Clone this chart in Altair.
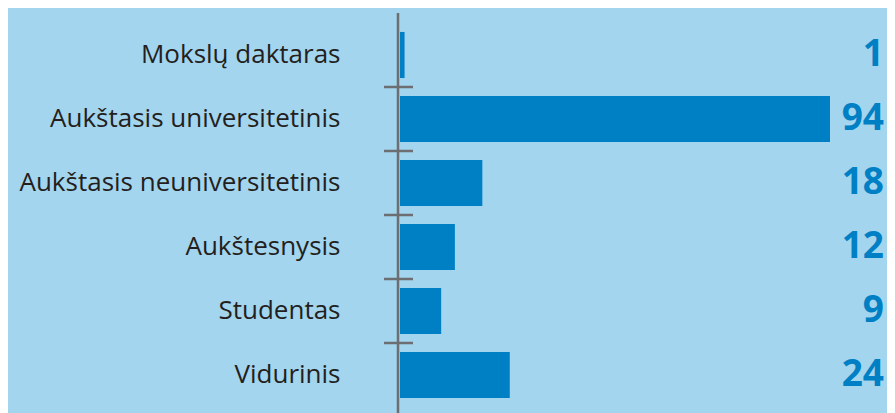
import altair as alt
import pandas as pd

categories = ["Mokslų daktaras", "Aukštasis universitetinis", "Aukštasis neuniversitetinis",
              "Aukštesnysis", "Studentas", "Vidurinis"]
values = [1, 94, 18, 12, 9, 24]

df = pd.DataFrame({"cat": categories, "val": values})
ticks_df = pd.DataFrame({"cat": categories[1:]})

BG = "#a3d5ee"
BAR = "#0080c4"
AXIS = "#6d6e71"

yenc = alt.Y("cat:N", sort=categories,
             scale=alt.Scale(paddingInner=0, paddingOuter=0),
             axis=alt.Axis(title=None, domain=False, ticks=False, labelPadding=60,
                           labelFont="Open Sans", labelFontSize=26, labelColor="#231f20",
                           labelAlign="right", labelLimit=400))

bars = alt.Chart(df).mark_bar(color=BAR, height={"band": 0.72}).encode(
    x=alt.X("val:Q", scale=alt.Scale(domain=[0, 94], nice=False), axis=None),
    y=yenc,
)

labels = alt.Chart(df).mark_text(align="right", baseline="middle", font="Open Sans",
                                 fontWeight="bold", fontSize=37, color=BAR).encode(
    x=alt.value(484),
    y=alt.Y("cat:N", sort=categories),
    text=alt.Text("val:Q"),
)

axis_line = alt.Chart(df.head(1)).mark_rule(color=AXIS, strokeWidth=2.5).encode(
    x=alt.value(-2), y=alt.value(-10), y2=alt.value(390),
)

ticks = alt.Chart(ticks_df).mark_rule(color=AXIS, strokeWidth=2.5).encode(
    x=alt.value(-16), x2=alt.value(13),
    y=alt.Y("cat:N", sort=categories, bandPosition=0),
)

chart = alt.layer(bars, ticks, axis_line, labels).properties(
    width=430, height=384,
    autosize=alt.AutoSizeParams(type="none"),
    padding={"left": 392, "top": 15, "right": 57, "bottom": 6},
    background=BG,
).configure_view(stroke=None)

chart.save("out.html", embed_options={"renderer": "svg", "actions": False})
